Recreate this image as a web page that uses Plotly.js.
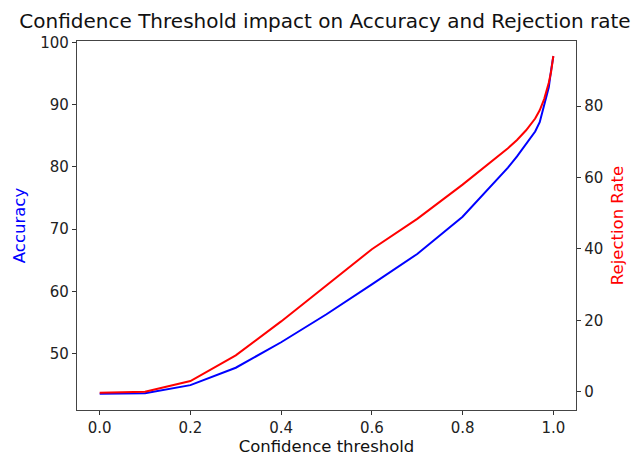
<!DOCTYPE html>
<html>
<head>
<meta charset="utf-8">
<script src="https://cdn.plot.ly/plotly-3.0.1.min.js"></script>
<style>html,body{margin:0;padding:0;background:#fff;}#chart{width:636px;height:459px;}</style>
</head>
<body>
<div id="chart"></div>
<script>
const thresholds = [0, 0.1, 0.2, 0.3, 0.4, 0.5, 0.6, 0.7, 0.8, 0.9, 0.92, 0.94, 0.96, 0.97, 0.98, 0.99, 0.995, 1.0];
const accuracy   = [43.5, 43.6, 44.9, 47.7, 51.8, 56.3, 61.1, 66.0, 72.0, 79.9, 81.7, 83.8, 85.7, 87.2, 89.8, 92.8, 95.5, 97.8];
const rejection  = [-0.3, 0.0, 3.0, 10.2, 19.7, 29.8, 39.9, 48.4, 58.0, 68.2, 70.5, 73.2, 76.5, 78.8, 82.0, 86.5, 89.5, 94.0];
const xTicks = [0, 0.2, 0.4, 0.6, 0.8, 1.0];
const xTickText = ['0.0', '0.2', '0.4', '0.6', '0.8', '1.0'];
const accTicks = [50, 60, 70, 80, 90, 100];
const rejTicks = [0, 20, 40, 60, 80];

const font = {family: 'DejaVu Sans', size: 15, color: '#222'};
const labelFont = {family: 'DejaVu Sans', size: 16.5, color: '#111'};
const traces = [
  {x: thresholds, y: accuracy, type: 'scatter', mode: 'lines', name: 'Accuracy',
   line: {color: '#0000ff', width: 2}, yaxis: 'y'},
  {x: thresholds, y: rejection, type: 'scatter', mode: 'lines', name: 'Rejection Rate',
   line: {color: '#ff0000', width: 2}, yaxis: 'y2'}
];
const axisCommon = {showgrid: false, zeroline: false, ticks: 'outside', ticklen: 4, tickwidth: 1,
  tickcolor: '#333', linecolor: '#444', linewidth: 1.2, showline: true, tickfont: font};
const layout = {
  width: 636, height: 459,
  margin: {l: 77, r: 60, t: 41, b: 49},
  paper_bgcolor: '#fff', plot_bgcolor: '#fff',
  showlegend: false,
  font: font,
  title: {text: 'Confidence Threshold impact on Accuracy and Rejection rate',
    font: {family: 'DejaVu Sans', size: 20, color: '#111'}, x: 0.511, xanchor: 'center', y: 0.955, yanchor: 'middle'},
  xaxis: Object.assign({}, axisCommon, {range: [-0.05, 1.05], tickvals: xTicks, ticktext: xTickText,
    mirror: true, title: {text: 'Confidence threshold', font: labelFont, standoff: 3}}),
  yaxis: Object.assign({}, axisCommon, {range: [40.9, 100.27], tickvals: accTicks,
    title: {text: 'Accuracy', font: {family: 'DejaVu Sans', size: 16.5, color: '#0000ff'}, standoff: 10}}),
  yaxis2: Object.assign({}, axisCommon, {range: [-5.1, 98.2], tickvals: rejTicks, overlaying: 'y', side: 'right',
    title: {text: 'Rejection Rate', font: {family: 'DejaVu Sans', size: 16.5, color: '#ff0000'}, standoff: 9}})
};
Plotly.newPlot('chart', traces, layout, {displayModeBar: false, staticPlot: true});
</script>
</body>
</html>
